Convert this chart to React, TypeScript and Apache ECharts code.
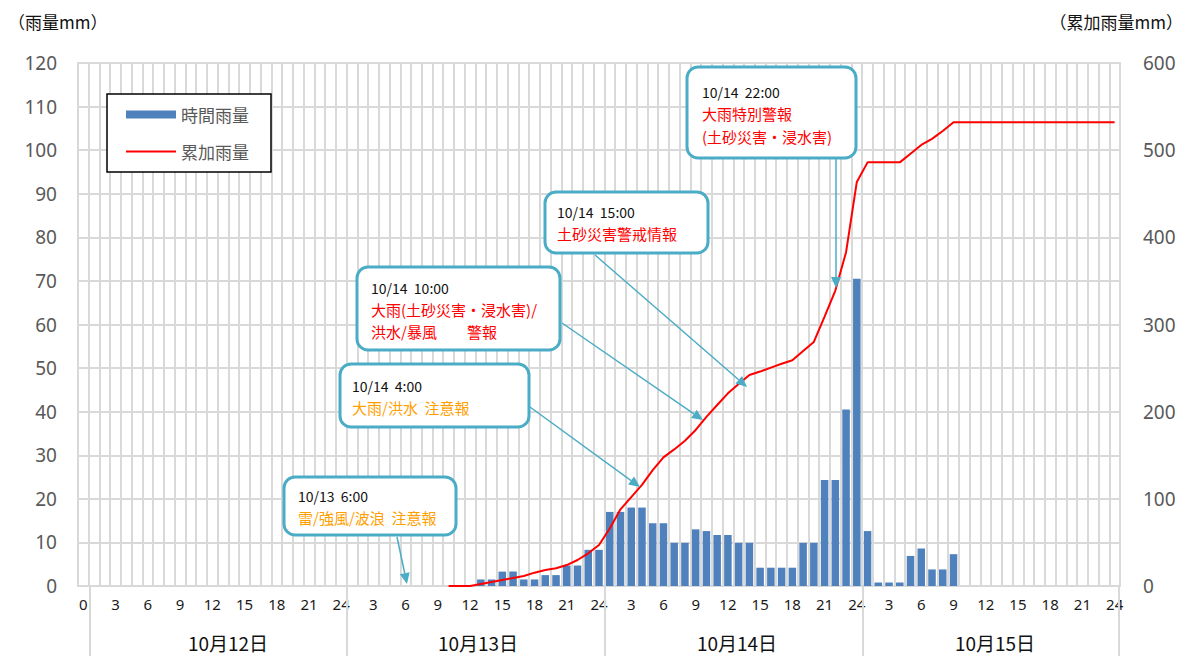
import React, { useEffect, useRef } from 'react';
import * as echarts from 'echarts';

const dayHours = ['1','2','3','4','5','6','7','8','9','10','11','12','13','14','15','16','17','18','19','20','21','22','23','24'];
const categories = ['0', ...dayHours, ...dayHours, ...dayHours, ...dayHours];
const dayLabels = ['10月12日', '10月13日', '10月14日', '10月15日'];

const N = null;
// index 0 = 10/12 0:00, one entry per hour, up to 10/15 24:00
const hourlyRain = [
  N, N, N, N, N, N, N, N, N, N, N, N, N, N, N, N, N, N, N, N, N, N, N, N, N,
  N, N, N, N, N, N, N, N, N, N, N, N, 1.5, 1.5, 3.3, 3.3, 1.5, 1.5, 2.5, 2.5, 4.7, 4.7, 8.3, 8.3,
  17.0, 17.0, 18.0, 18.0, 14.4, 14.4, 9.9, 9.9, 13.0, 12.6, 11.7, 11.7, 9.9, 9.9, 4.2, 4.2, 4.2, 4.2, 9.9, 9.9, 24.3, 24.3, 40.5, 70.5,
  12.6, 0.8, 0.8, 0.8, 6.9, 8.6, 3.8, 3.8, 7.3, N, N, N, N, N, N, N, N, N, N, N, N, N, N, N,
];
const cumulativeRain = [
  N, N, N, N, N, N, N, N, N, N, N, N, N, N, N, N, N, N, N, N, N, N, N, N, N,
  N, N, N, N, N, N, N, N, N, 0, 0, 0, 2.3, 4.6, 6.9, 9.2, 11.5, 15.3, 18.3, 20.3, 24, 29.8, 37.5, 47,
  66, 88, 102, 116, 133, 147.6, 156.7, 166.6, 179, 194, 207.6, 221, 231.7, 242, 246, 250.5, 255, 259, 269.5, 280, 309, 339, 383, 463.6,
  486, 486, 486, 486, 496, 506, 513, 522, 532, 532, 532, 532, 532, 532, 532, 532, 532, 532, 532, 532, 532, 532, 532, 532,
];

const annotations = [
  { box: [284, 477, 172, 58], tx: 298, date: '10/13  6:00', dy: 496, lines: ['雷/強風/波浪  注意報'], ly: [517], color: '#FFA000', from: [397, 537], to: [407, 584] },
  { box: [340, 364, 189, 63], tx: 352, date: '10/14  4:00', dy: 386, lines: ['大雨/洪水  注意報'], ly: [407], color: '#FFA000', from: [530, 407], to: [640, 487] },
  { box: [357, 267, 203, 83], tx: 371, date: '10/14  10:00', dy: 288, lines: ['大雨(土砂災害・浸水害)/', '洪水/暴風　　警報'], ly: [309, 331], color: '#FF0000', from: [562, 323], to: [703, 420] },
  { box: [545, 192, 163, 61], tx: 557, date: '10/14  15:00', dy: 212, lines: ['土砂災害警戒情報'], ly: [233], color: '#FF0000', from: [595, 255], to: [747, 387] },
  { box: [687, 67, 169, 91], tx: 702, date: '10/14  22:00', dy: 92, lines: ['大雨特別警報', '(土砂災害・浸水害)'], ly: [113, 136], color: '#FF0000', from: [836, 158], to: [836, 288] },
];
const dayLabelX = [228, 478, 737, 995];
const dividerX = [90, 347, 605, 863, 1119];

const JP = '"Noto Sans CJK JP", "Noto Sans", sans-serif';
const TEAL = '#4BACC6';

function buildGraphics() {
  const g: any[] = [];
  g.push({ type: 'text', left: 8, top: 13, z: 10, style: { text: '（雨量mm）', fontSize: 17, fontFamily: JP, fill: '#111' } });
  g.push({ type: 'text', right: 3, top: 13, z: 10, style: { text: '（累加雨量mm）', fontSize: 17, fontFamily: JP, fill: '#111' } });
  dayLabels.forEach((t, i) => {
    g.push({ type: 'text', x: dayLabelX[i], y: 642, z: 10, style: { text: t, fontSize: 19, fontFamily: JP, fill: '#111', textAlign: 'center', textVerticalAlign: 'middle' } });
  });
  dividerX.forEach((x) => {
    g.push({ type: 'line', z: 10, shape: { x1: x, y1: 587, x2: x, y2: 656 }, style: { stroke: '#D9D9D9', lineWidth: 2 } });
  });
  annotations.forEach((a) => {
    const [fx, fy] = a.from;
    const [tx, ty] = a.to;
    const dx = tx - fx, dy = ty - fy;
    const len = Math.sqrt(dx * dx + dy * dy);
    const ux = dx / len, uy = dy / len;
    const hl = 11, hw = 5;
    const bx = tx - ux * hl, by = ty - uy * hl;
    g.push({ type: 'line', z: 20, shape: { x1: fx, y1: fy, x2: bx, y2: by }, style: { stroke: TEAL, lineWidth: 1.5 } });
    g.push({ type: 'polygon', z: 20, shape: { points: [[tx, ty], [bx - uy * hw, by + ux * hw], [bx + uy * hw, by - ux * hw]] }, style: { fill: TEAL } });
    const [x, y, w, h] = a.box;
    g.push({ type: 'rect', z: 21, shape: { x, y, width: w, height: h, r: 11 }, style: { fill: '#fff', stroke: TEAL, lineWidth: 3 } });
    g.push({ type: 'text', z: 22, x: a.tx, y: a.dy, style: { text: a.date, fontSize: 14, fontFamily: JP, fill: '#111', textVerticalAlign: 'middle' } });
    a.lines.forEach((l, i) => {
      g.push({ type: 'text', z: 22, x: a.tx, y: a.ly[i], style: { text: l, fontSize: 15, fontFamily: JP, fill: a.color, textVerticalAlign: 'middle' } });
    });
  });
  return g;
}

export default function App() {
  const ref = useRef<HTMLDivElement>(null);
  useEffect(() => {
    if (!ref.current) return;
    const chart = echarts.init(ref.current, undefined, { renderer: 'svg' });
    chart.setOption({
      animation: false,
      backgroundColor: '#fff',
      textStyle: { fontFamily: JP },
      grid: { left: 78, top: 63, width: 1042, height: 523, show: true, borderColor: '#DDD9C3', borderWidth: 2, backgroundColor: 'transparent' },
      legend: {
        left: 107, top: 94, orient: 'vertical',
        padding: [12, 22, 12, 19], itemGap: 20, itemWidth: 50, itemHeight: 8,
        borderColor: '#000', borderWidth: 1.5, backgroundColor: '#fff',
        textStyle: { fontSize: 17, color: '#595959', fontFamily: JP },
        data: [
          { name: '時間雨量', icon: 'rect' },
          { name: '累加雨量', icon: 'path://M0,0 L50,0 L50,2 L0,2 Z', itemStyle: { color: '#FF0000', borderWidth: 0 } },
        ],
      },
      xAxis: {
        type: 'category', data: categories, boundaryGap: true,
        axisLine: { lineStyle: { color: '#D9D9D9', width: 2 } },
        axisTick: { interval: 0, length: 6, lineStyle: { color: '#D9D9D9', width: 2 } },
        axisLabel: { interval: (i: number) => i % 3 === 0, color: '#1a1a1a', fontSize: 15, margin: 10, fontFamily: '"Noto Sans", sans-serif' },
        splitLine: { show: true, interval: 0, lineStyle: { color: '#D9D9D9', width: 2 } },
      },
      yAxis: [
        {
          type: 'value', min: 0, max: 120, interval: 10, position: 'left',
          axisLine: { show: false }, axisTick: { show: false },
          axisLabel: { color: '#595959', fontSize: 19, margin: 21, fontFamily: '"Noto Sans", sans-serif' },
          splitLine: { show: true, lineStyle: { color: '#D9D9D9', width: 2 } },
        },
        {
          type: 'value', min: 0, max: 600, interval: 100, position: 'right',
          axisLine: { show: false }, axisTick: { show: false },
          axisLabel: { color: '#595959', fontSize: 19, margin: 23, fontFamily: '"Noto Sans", sans-serif' },
          splitLine: { show: false },
        },
      ],
      series: [
        { name: '時間雨量', type: 'bar', data: hourlyRain, barWidth: '70%', itemStyle: { color: '#4F81BD' }, yAxisIndex: 0 },
        { name: '累加雨量', type: 'line', data: cumulativeRain, yAxisIndex: 1, symbol: 'none', showSymbol: false, lineStyle: { color: '#FF0000', width: 2 }, itemStyle: { color: '#FF0000' } },
      ],
      graphic: buildGraphics(),
    });
    return () => chart.dispose();
  }, []);
  return <div ref={ref} style={{ position: 'absolute', left: 0, top: 0, width: 1186, height: 656 }} />;
}
